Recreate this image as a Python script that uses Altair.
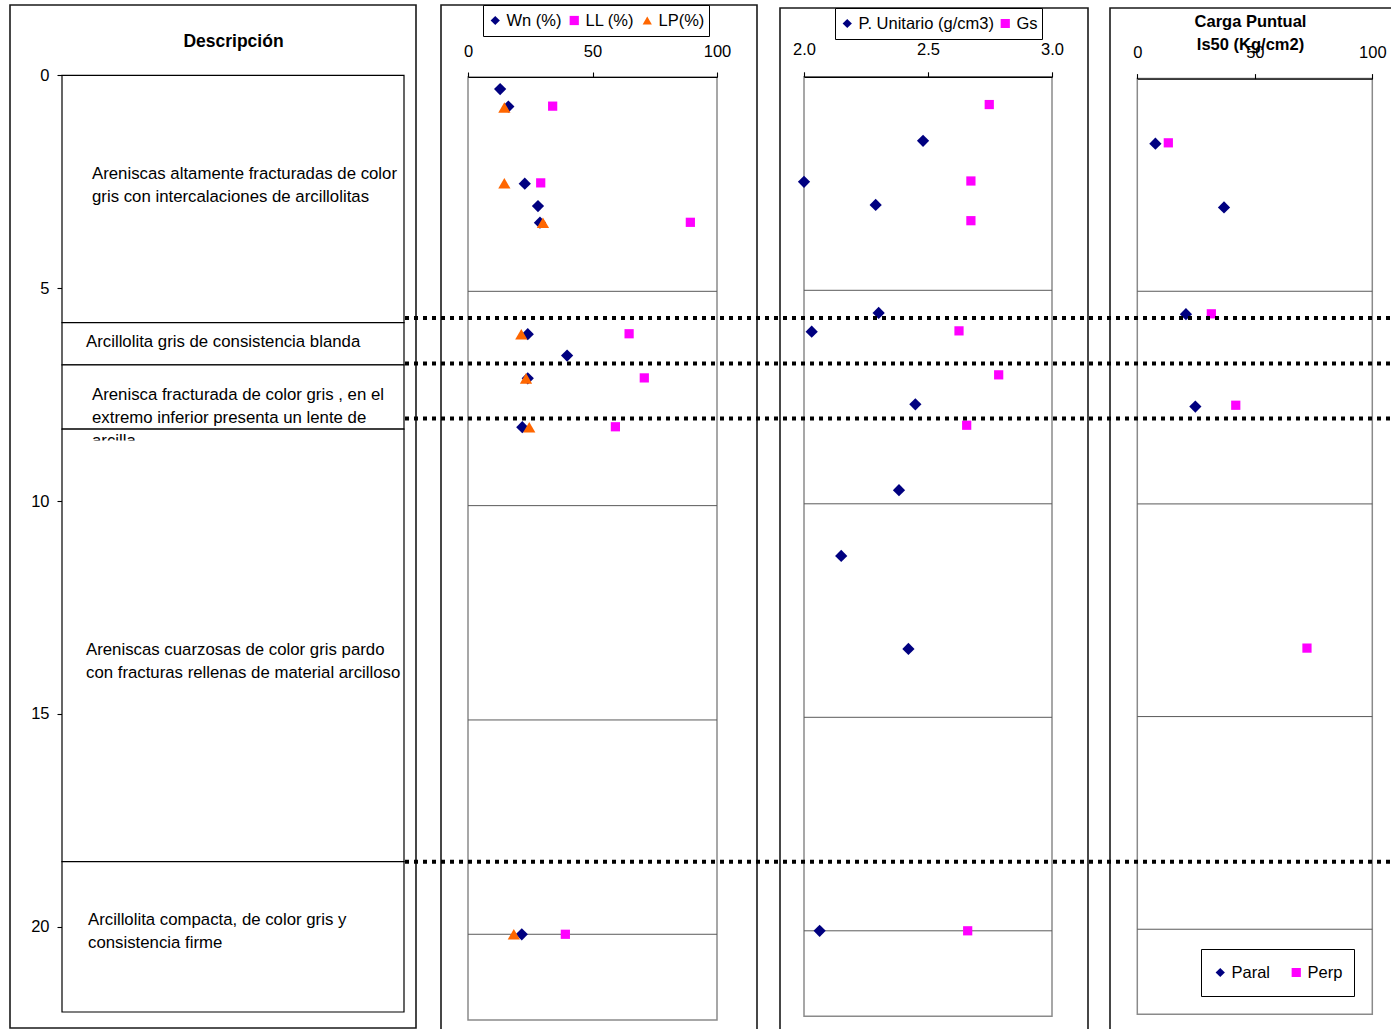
import altair as alt
import pandas as pd

FONT = "Liberation Sans"
FS = 16.5
NAVY = "#000080"
MAGENTA = "#FF00FF"
ORANGE = "#FF6600"
BOX_GRAY = "#8a8a8a"
DEPTH_MAX = 22

# ---------------- column 1: lithological description ----------------
UNIT_TOP = [0.0, 5.81, 6.80, 8.31, 18.47]
UNIT_BASE = [5.81, 6.80, 8.31, 18.47, 22.0]
UNIT_TEXT = [
    ["Areniscas altamente fracturadas de color", "gris con intercalaciones de arcillolitas"],
    ["Arcillolita gris de consistencia blanda"],
    ["Arenisca fracturada de color gris , en el", "extremo inferior presenta un lente de", "arcilla"],
    ["Areniscas cuarzosas de color gris pardo", "con fracturas rellenas de material arcilloso"],
    ["Arcillolita compacta, de color gris y", "consistencia firme"],
]
DEPTH_TICKS = [0, 5, 10, 15, 20]

# contacts traced across every column
CONTACT_DEPTH = [5.70, 6.77, 8.06, 18.47]

# ---------------- column 2: moisture and Atterberg limits ----------------
SERIES_2 = ["Wn (%)", "LL (%)", "LP(%)"]
WN_DEPTH = [0.28, 0.69, 2.49, 3.01, 3.40, 6.00, 6.50, 7.03, 8.17, 20.0]
WN = [12.9, 16.2, 22.8, 28.1, 28.9, 24.0, 39.8, 24.0, 21.8, 21.6]
LL_DEPTH = [0.68, 2.47, 3.39, 5.99, 7.02, 8.16, 20.0]
LL = [34.0, 29.2, 89.3, 64.7, 70.8, 59.2, 39.1]
LP_DEPTH = [0.71, 2.48, 3.40, 6.00, 7.03, 8.17, 20.0]
LP = [14.6, 14.6, 30.1, 21.4, 23.3, 24.6, 18.4]

# ---------------- column 3: unit weight and specific gravity ----------------
SERIES_3 = ["P. Unitario (g/cm3)", "Gs"]
PU_DEPTH = [1.50, 2.46, 3.00, 5.53, 5.97, 7.67, 9.68, 11.22, 13.40, 20.0]
PU = [2.480, 2.000, 2.289, 2.301, 2.031, 2.449, 2.383, 2.150, 2.421, 2.063]
GS_DEPTH = [0.65, 2.44, 3.37, 5.95, 6.98, 8.16, 20.0]
GS = [2.747, 2.673, 2.673, 2.625, 2.785, 2.656, 2.660]

# ---------------- column 4: point load index ----------------
SERIES_4 = ["Paral", "Perp"]
PARAL_DEPTH = [1.53, 3.03, 5.54, 7.71]
PARAL = [7.7, 36.9, 20.7, 24.7]
PERP_DEPTH = [1.51, 5.53, 7.68, 13.39]
PERP = [13.2, 31.5, 41.9, 72.2]

GRID_DEPTH = [5, 10, 15, 20]

# ---------------- layout (pixels) ----------------
COL1_X = [62, 404]
COL1_Y = [75.3, 1012.0]
COL2_X = [468, 717]
COL2_Y = [77.0, 1020.0]
COL3_X = [804, 1052]
COL3_Y = [76.8, 1016.2]
COL4_X = [1137.3, 1372.3]
COL4_Y = [78.6, 1014.3]
TEXT_X = [92, 86, 92, 86, 88]
TEXT_Y = [178.8, 346.8, 399.8, 654.8, 924.8]
FRAME_X0 = [10, 441, 780, 1110]
FRAME_X1 = [416, 757, 1088, 1410]
FRAME_Y0 = [5, 5, 8, 8]
FRAME_Y1 = [1028, 1040, 1040, 1040]
HEAD_TEXT = ["Descripción", "Carga Puntual", "Is50 (Kg/cm2)"]
HEAD_X = [233.5, 1250.5, 1250.5]
HEAD_Y = [42, 22, 45]
HEAD_SIZE = [17.5, 16.5, 16.5]

# marker area per symbol type
SYMBOL_AREA = {"diamond": 150, "square": 85, "triangle-up": 150}


def depth_scale(rng):
    return alt.Scale(domain=[0, DEPTH_MAX], range=rng, nice=False, zero=False)


def top_axis(values, offset, fmt, pad):
    return alt.Axis(orient="top", offset=-offset, values=values, format=fmt,
                    title=None, grid=False, tickSize=5, tickColor="black",
                    tickWidth=1.1, domainColor="black", domainWidth=1.2,
                    labelFont=FONT, labelFontSize=FS, labelColor="black",
                    labelPadding=pad, labelFlush=False, labelOverlap=False,
                    zindex=1)


def legend(x, y, pad, colpad, clip):
    return alt.Legend(orient="none", legendX=x, legendY=y, direction="horizontal",
                      title=None, strokeColor="black", fillColor="white",
                      padding=pad, labelFont=FONT, labelFontSize=FS,
                      labelColor="black", symbolSize=85, symbolStrokeWidth=0,
                      columnPadding=colpad, labelOffset=3, clipHeight=clip)


def data_column(dom, xr, yr, ticks, fmt, pad, names, depths, values, shapes,
                colors, leg):
    xs = alt.Scale(domain=dom, range=xr, nice=False, zero=False)
    ys = depth_scale(yr)
    xax = top_axis(ticks, yr[0], fmt, pad)
    box_df = pd.DataFrame({"x0": [dom[0]], "x1": [dom[1]], "y0": [0], "y1": [DEPTH_MAX]})
    grid_df = pd.DataFrame({"x0": [dom[0]] * len(GRID_DEPTH),
                            "x1": [dom[1]] * len(GRID_DEPTH), "d": GRID_DEPTH})
    rows = []
    for name, shp, dep, val in zip(names, shapes, depths, values):
        for d, v in zip(dep, val):
            rows.append({"serie": name, "depth": d, "v": v, "area": SYMBOL_AREA[shp]})
    pts_df = pd.DataFrame(rows)

    box = alt.Chart(box_df).mark_rect(fillOpacity=0, stroke=BOX_GRAY, strokeWidth=1.5).encode(
        x=alt.X("x0:Q", scale=xs, axis=xax), x2="x1:Q",
        y=alt.Y("y0:Q", scale=ys, axis=None), y2="y1:Q")
    grid = alt.Chart(grid_df).mark_rule(color="#5a5a5a", strokeWidth=1).encode(
        x=alt.X("x0:Q", scale=xs, axis=xax), x2="x1:Q",
        y=alt.Y("d:Q", scale=ys, axis=None))
    pts = alt.Chart(pts_df).mark_point(filled=True, opacity=1).encode(
        x=alt.X("v:Q", scale=xs, axis=xax),
        y=alt.Y("depth:Q", scale=ys, axis=None),
        color=alt.Color("serie:N", scale=alt.Scale(domain=names, range=colors), legend=leg),
        shape=alt.Shape("serie:N", scale=alt.Scale(domain=names, range=shapes), legend=leg),
        size=alt.Size("area:Q", scale=None),
    )
    return alt.layer(box, grid, pts)


# ---- frames around each column ----
frames = alt.Chart(pd.DataFrame({"x0": FRAME_X0, "x1": FRAME_X1,
                                 "y0": FRAME_Y0, "y1": FRAME_Y1})).mark_rect(
    fillOpacity=0, stroke="#1a1a1a", strokeWidth=1.6).encode(
    x=alt.X("x0:Q", scale=None), x2="x1:Q",
    y=alt.Y("y0:Q", scale=None), y2="y1:Q")

# ---- column 1 ----
cells_df = pd.DataFrame({"top": UNIT_TOP, "base": UNIT_BASE,
                         "x0": [COL1_X[0]] * 5, "x1": [COL1_X[1]] * 5})
cells = alt.Chart(cells_df).mark_rect(fill="white", stroke="black", strokeWidth=1.2).encode(
    x=alt.X("x0:Q", scale=None), x2="x1:Q",
    y=alt.Y("top:Q", scale=depth_scale(COL1_Y),
            axis=alt.Axis(orient="left", offset=-COL1_X[0], values=DEPTH_TICKS,
                          domain=False, grid=False, title=None, tickSize=5,
                          tickColor="black", tickWidth=1.1, labelFont=FONT,
                          labelFontSize=FS, labelColor="black", labelPadding=8)),
    y2="base:Q")

texts_df = pd.DataFrame({"lines": UNIT_TEXT, "tx": TEXT_X, "ty": TEXT_Y})
texts = alt.Chart(texts_df).mark_text(
    align="left", baseline="alphabetic", font=FONT, fontSize=16.8,
    lineHeight=23, color="black").encode(
    x=alt.X("tx:Q", scale=None), y=alt.Y("ty:Q", scale=None), text="lines")

# the third unit's text box is cut at its lower edge
mask = alt.Chart(pd.DataFrame({"m": [1]})).mark_rect(fill="white").encode(
    x=alt.value(86), x2=alt.value(200), y=alt.value(440.5), y2=alt.value(455))

heads = alt.Chart(pd.DataFrame({"t": HEAD_TEXT, "hx": HEAD_X, "hy": HEAD_Y,
                                "fs": HEAD_SIZE})).mark_text(
    font=FONT, fontWeight="bold", align="center", baseline="middle",
    color="black").encode(
    x=alt.X("hx:Q", scale=None), y=alt.Y("hy:Q", scale=None), text="t:N",
    size=alt.Size("fs:Q", scale=None))

col2 = data_column([0, 100], COL2_X, COL2_Y, [0, 50, 100], "d", 13, SERIES_2,
                   [WN_DEPTH, LL_DEPTH, LP_DEPTH], [WN, LL, LP],
                   ["diamond", "square", "triangle-up"],
                   [NAVY, MAGENTA, ORANGE], legend(483, 5, 4, 4, 23))
col3 = data_column([2, 3], COL3_X, COL3_Y, [2.0, 2.5, 3.0], ".1f", 14, SERIES_3,
                   [PU_DEPTH, GS_DEPTH], [PU, GS],
                   ["diamond", "square"],
                   [NAVY, MAGENTA], legend(835, 8, 4, 3, 23))
col4 = data_column([0, 100], COL4_X, COL4_Y, [0, 50, 100], "d", 13, SERIES_4,
                   [PARAL_DEPTH, PERP_DEPTH], [PARAL, PERP],
                   ["diamond", "square"],
                   [NAVY, MAGENTA], legend(1201, 949, 11, 17, 25))

contacts = alt.Chart(pd.DataFrame({"d": CONTACT_DEPTH})).mark_rule(
    color="black", strokeWidth=4, strokeDash=[4, 5]).encode(
    x=alt.value(405), x2=alt.value(1391),
    y=alt.Y("d:Q", scale=depth_scale(COL1_Y), axis=None))

chart = alt.layer(frames, cells, texts, mask, heads, col2, col3, col4, contacts).resolve_scale(
    x="independent", y="independent", color="independent",
    shape="independent", size="independent"
).properties(
    width=1391, height=1029, padding=0,
    autosize=alt.AutoSizeParams(type="none"), background="white"
).configure_view(stroke=None)

chart.save("out.html", embed_options={"renderer": "svg", "actions": False})
